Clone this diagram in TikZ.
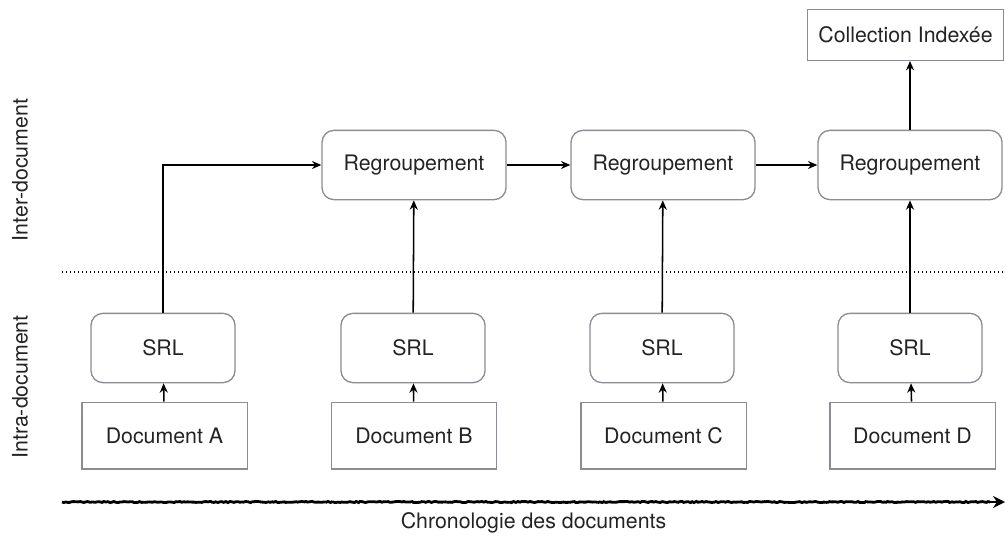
\documentclass[tikz,border=0pt]{standalone}
\usepackage{fontspec}
\setmainfont{TeX Gyre Heros}
\usetikzlibrary{arrows.meta,decorations.pathmorphing}
\begin{document}
\begin{tikzpicture}[x=0.75pt,y=-0.75pt,font=\fontsize{16}{19}\selectfont,
  docbox/.style={draw=boxgray,line width=1pt,text=txtgray,minimum width=124pt,minimum height=50pt,inner sep=0pt},
  srlbox/.style={draw=boxgray,line width=1pt,text=txtgray,rounded corners=9pt,minimum width=108pt,minimum height=52pt,inner sep=0pt},
  grpbox/.style={srlbox,minimum width=138pt},
  flow/.style={line width=1.15pt,-{Stealth[length=7pt,width=6pt]}}]
\definecolor{boxgray}{RGB}{140,140,146}
\definecolor{txtgray}{RGB}{35,35,35}
\useasboundingbox (0,0) rectangle (1005,535);
% side labels
\node[rotate=90,text=txtgray] (inter) at (20,170) {Inter-document};
\node[rotate=90,text=txtgray] (intra) at (20,387) {Intra-document};
\draw[line width=1pt,dotted] (62,272)--(1005,272);
% documents
\node[docbox] (docA) at (164.5,435.5) {Document A};
\node[docbox] (docB) at (414,435.5) {Document B};
\node[docbox] (docC) at (663.5,435.5) {Document C};
\node[docbox] (docD) at (912.5,435.5) {Document D};
% SRL
\node[srlbox] (srlA) at (163,348) {SRL};
\node[srlbox] (srlB) at (413,348) {SRL};
\node[srlbox] (srlC) at (662,348) {SRL};
\node[srlbox] (srlD) at (910,348) {SRL};
% regroupements
\node[grpbox] (grpB) at (414,165) {Regroupement};
\node[grpbox] (grpC) at (663,165) {Regroupement};
\node[grpbox] (grpD) at (910,165) {Regroupement};
\node[docbox,minimum width=147pt,minimum height=38pt] (coll) at (905.5,35) {Collection Index\'ee};
% connectors
\draw[flow] (docA) -- (srlA);
\draw[flow] (docB) -- (srlB);
\draw[flow] (docC) -- (srlC);
\draw[flow] (docD) -- (srlD);
\draw[flow] (srlA.north) |- (grpB.west);
\draw[flow] (srlB) -- (grpB);
\draw[flow] (srlC) -- (grpC);
\draw[flow] (srlD) -- (grpD);
\draw[flow] (grpB) -- (grpC);
\draw[flow] (grpC) -- (grpD);
\draw[flow] (grpD.north) -- (grpD.north |- coll.south);
% time axis
\coordinate (tstart) at (62,502);
\coordinate (tmid) at (990,502);
\coordinate (tend) at (1005,502);
\draw[line width=2.1pt,decorate,decoration={random steps,segment length=1.5pt,amplitude=0.45pt}] (tstart) -- (tmid);
\draw[line width=2.1pt,-{Stealth[length=9pt,width=9pt]}] ([xshift=-2pt]tmid) -- (tend);
\node[text=txtgray] (chrono) at (533.5,523) {Chronologie des documents};
\end{tikzpicture}
\end{document}
